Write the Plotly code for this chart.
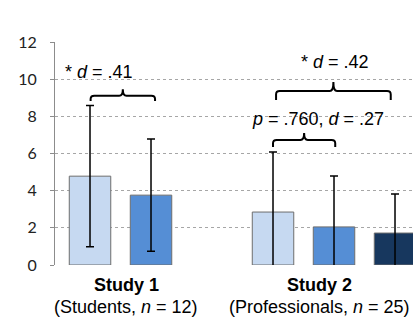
import plotly.graph_objects as go

# Data
positions = [0, 1, 3, 4, 5]
means = [4.78, 3.76, 2.85, 2.05, 1.72]
errors = [3.80, 3.02, 3.23, 2.74, 2.10]
colors = ["#C6D9F1", "#558ED5", "#C6D9F1", "#558ED5", "#17375E"]
y_ticks = [0, 2, 4, 6, 8, 10, 12]

group_titles = ["<b>Study 1</b>", "<b>Study 2</b>"]
group_subtitles = ["(Students, <i>n</i> = 12)", "(Professionals, <i>n</i> = 25)"]
group_x = [0.59, 3.77]

stat_labels = ["* <i>d</i> = .41", "* <i>d</i> = .42", "<i>p</i> = .760, <i>d</i> = .27"]
stat_x = [0.14, 4.02, 3.74]
stat_y = [10.39, 10.93, 7.86]

# braces: (x0, x1, y_top, y_end, y_tip)
braces = [(0.01, 1.066, 9.11, 8.83, 9.46),
          (3.05, 4.93, 9.36, 8.88, 9.85),
          (3.00, 4.02, 6.73, 6.35, 7.10)]

FONT = "Liberation Sans, Arial, sans-serif"

fig = go.Figure()
fig.add_trace(go.Bar(
    x=positions, y=means, width=0.68,
    marker=dict(color=colors, line=dict(color="#6E6E6E", width=1)),
    error_y=dict(type="data", array=errors, visible=True,
                 color="black", thickness=1.5, width=4),
    showlegend=False,
))

shapes = []
for (x0, x1, yt, ye, yp) in braces:
    xm = (x0 + x1) / 2
    rx = 0.06
    ry = 0.18
    path = (f"M {x0},{ye} L {x0},{yt - ry} Q {x0},{yt} {x0 + rx},{yt} "
            f"L {xm - rx},{yt} Q {xm},{yt} {xm},{yp} "
            f"Q {xm},{yt} {xm + rx},{yt} "
            f"L {x1 - rx},{yt} Q {x1},{yt} {x1},{yt - ry} L {x1},{ye}")
    shapes.append(dict(type="path", path=path, xref="x", yref="y",
                       line=dict(color="black", width=2)))

annotations = []
for t, s, gx in zip(group_titles, group_subtitles, group_x):
    annotations.append(dict(x=gx, y=0, xref="x", yref="y", text=t, showarrow=False,
                            yanchor="middle", yshift=-20,
                            font=dict(family=FONT, size=18, color="black")))
    annotations.append(dict(x=gx, y=0, xref="x", yref="y", text=s, showarrow=False,
                            yanchor="middle", yshift=-42,
                            font=dict(family=FONT, size=18, color="black")))
for t, sx, sy in zip(stat_labels, stat_x, stat_y):
    annotations.append(dict(x=sx, y=sy, xref="x", yref="y", text=t, showarrow=False,
                            yanchor="middle",
                            font=dict(family=FONT, size=18, color="black")))

fig.update_layout(
    width=413, height=322,
    margin=dict(l=55, r=0, t=42, b=57),
    paper_bgcolor="white", plot_bgcolor="white",
    shapes=shapes, annotations=annotations,
    xaxis=dict(range=[-0.574, 5.295], showticklabels=False, showgrid=False,
               zeroline=False, showline=False, ticks=""),
    yaxis=dict(range=[0, 12], tickvals=y_ticks, showgrid=True,
               gridcolor="#A6A6A6", griddash="dot", gridwidth=1,
               zeroline=False, showline=True, linecolor="#8C8C8C", linewidth=1,
               ticks="outside", ticklen=4, tickcolor="#8C8C8C",
               ticklabelstandoff=10,
               tickfont=dict(family="Lato, sans-serif", size=16, color="#222222")),
)

fig.write_html("out.html",
               config={"displayModeBar": False},
               post_script="document.body.style.margin='0';document.body.style.overflow='hidden';")
